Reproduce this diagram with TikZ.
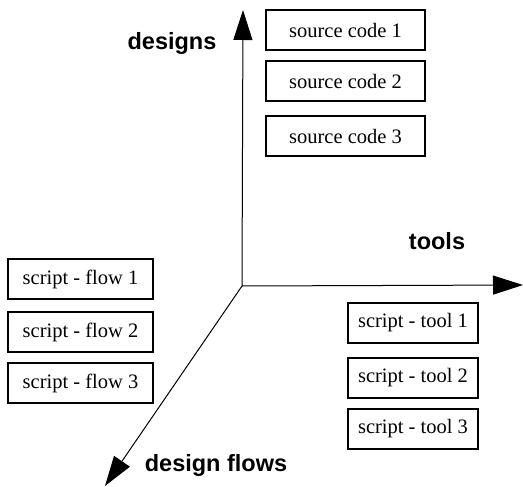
\documentclass[tikz,border=0pt]{standalone}
\usepackage{fontspec}
\setmainfont{Liberation Serif}
\setsansfont{Liberation Sans}
\usetikzlibrary{arrows.meta}
\tikzset{
  box/.style={draw, line width=1.2pt, minimum height=40pt, inner sep=0pt, font=\fontsize{20.5}{24}\selectfont},
  srcbox/.style={box, minimum width=159pt},
  flowbox/.style={box, minimum width=145pt},
  toolbox/.style={box, minimum width=130pt},
  axis/.style={line width=1pt, -{Triangle[length=30pt,width=19pt]}},
  axlabel/.style={font=\sffamily\bfseries\fontsize{23.5}{28}\selectfont, inner sep=0pt}
}
\begin{document}
\begin{tikzpicture}[x=1pt,y=-1pt]
\useasboundingbox (0,0) rectangle (523,487);
\coordinate (o) at (242,286);
\coordinate (ytip) at (243,10);
\coordinate (xtip) at (523,285);
\coordinate (ztip) at (105,486);
\draw[axis] (o) -- (ytip);
\draw[axis] (o) -- (xtip);
\draw[axis] (o) -- (ztip);
\node[axlabel] (ld) at (172,43) {designs};
\node[axlabel] (lt) at (437,241) {tools};
\node[axlabel] (lf) at (216,465) {design flows};
\node[srcbox] (s1) at (345.5,30) {source code 1};
\node[srcbox] (s2) at (345.5,81) {source code 2};
\node[srcbox] (s3) at (345.5,136) {source code 3};
\node[flowbox] (f1) at (80.5,279) {script - flow 1};
\node[flowbox] (f2) at (80.5,332) {script - flow 2};
\node[flowbox] (f3) at (80.5,383) {script - flow 3};
\node[toolbox] (t1) at (413,323) {script - tool 1};
\node[toolbox] (t2) at (413,378) {script - tool 2};
\node[toolbox] (t3) at (413,429) {script - tool 3};
\end{tikzpicture}
\end{document}
